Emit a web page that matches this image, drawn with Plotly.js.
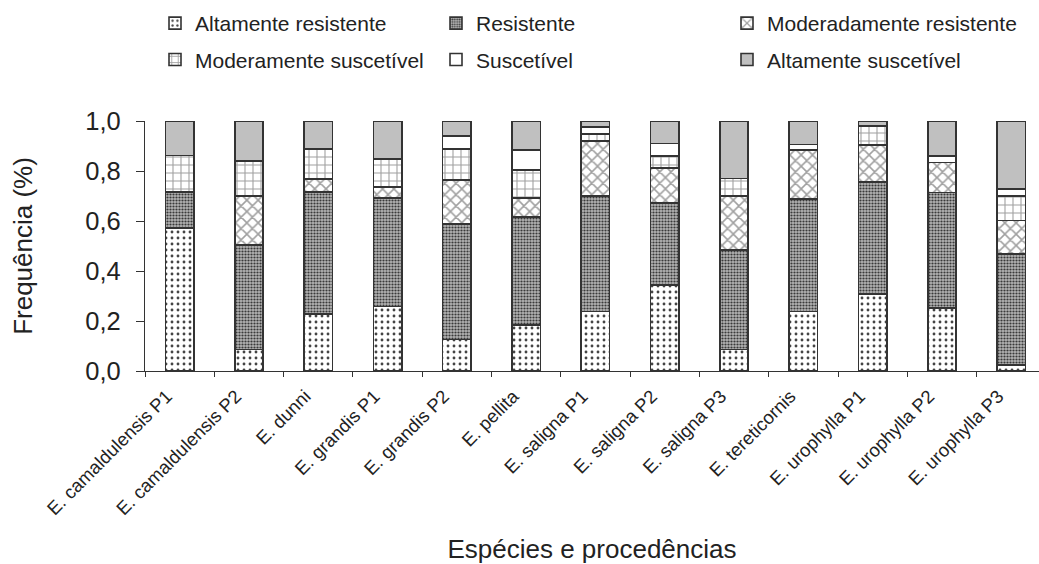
<!DOCTYPE html>
<html>
<head>
<meta charset="utf-8">
<script src="https://cdn.plot.ly/plotly-3.0.1.min.js"></script>
<style>html,body{margin:0;padding:0;background:#fff;}#chart{width:1039px;height:564px;}</style>
</head>
<body>
<div id="chart"></div>
<script>
const categories = ["E. camaldulensis P1","E. camaldulensis P2","E. dunni","E. grandis P1","E. grandis P2","E. pellita","E. saligna P1","E. saligna P2","E. saligna P3","E. tereticornis","E. urophylla P1","E. urophylla P2","E. urophylla P3"];
const altamenteResistente = [0.573,0.086,0.228,0.258,0.126,0.183,0.238,0.345,0.086,0.238,0.308,0.253,0.024];
const resistente = [0.142,0.417,0.487,0.435,0.463,0.433,0.462,0.327,0.399,0.449,0.448,0.461,0.445];
const moderadamenteResistente = [0,0.196,0.053,0.042,0.174,0.076,0.220,0.141,0.214,0.197,0.148,0.120,0.133];
const moderamenteSuscetivel = [0.147,0.140,0.121,0.112,0.126,0.111,0.028,0.048,0.071,0,0.077,0,0.098];
const suscetivel = [0,0,0,0,0.052,0.081,0.029,0.049,0,0.022,0,0.027,0.027];
const altamenteSuscetivel = [0.138,0.161,0.111,0.153,0.059,0.116,0.023,0.090,0.230,0.094,0.019,0.139,0.273];
const yTicks = [0,0.2,0.4,0.6,0.8,1.0];

const W = 1039, H = 564, ML = 145, MR = 0, MT = 121, MB = 193;
const PW = W - ML - MR, PH = H - MT - MB;
function px2x(px){ return (px - ML) / PW; }
function px2y(py){ return (H - MB - py) / PH; }

const line = {color:'#333', width:1.6};
function tr(name, y, pattern, color, legend, grp){
  return {type:'bar', name:name, x:categories, y:y, legend:legend, legendgroup:grp,
    marker:{color:color, line:line, pattern:pattern}, hoverinfo:'skip'};
}
const data = [
  tr('Altamente resistente', altamenteResistente, {shape:'.', bgcolor:'#ffffff', fgcolor:'#444', size:6, solidity:0.18}, '#ffffff', 'legend', 'a'),
  tr('Resistente', resistente, {shape:'.', bgcolor:'#b4b4b4', fgcolor:'#3a3a3a', size:3, solidity:0.42}, '#b4b4b4', 'legend2', 'b'),
  tr('Moderadamente resistente', moderadamenteResistente, {shape:'x', bgcolor:'#ffffff', fgcolor:'#a0a0a0', size:8, solidity:0.35}, '#ffffff', 'legend3', 'c'),
  tr('Moderamente suscetível', moderamenteSuscetivel, {shape:'+', bgcolor:'#ffffff', fgcolor:'#a0a0a0', size:8, solidity:0.25}, '#ffffff', 'legend', 'd'),
  tr('Suscetível', suscetivel, {}, '#ffffff', 'legend2', 'e'),
  tr('Altamente suscetível', altamenteSuscetivel, {}, '#c0c0c0', 'legend3', 'f')
];
function leg(px){
  return {xref:'paper', yref:'paper', x:px2x(px), y:px2y(3), xanchor:'left', yanchor:'top',
    orientation:'v', traceorder:'grouped', tracegroupgap:6, itemwidth:30,
    font:{family:'Liberation Sans, Arial, sans-serif', size:21, color:'#222'}, bgcolor:'rgba(0,0,0,0)'};
}
const layout = {
  width:W, height:H,
  margin:{l:ML, r:MR, t:MT, b:MB, autoexpand:false},
  paper_bgcolor:'#fff', plot_bgcolor:'#fff',
  barmode:'stack', bargap:0.59,
  separators:', ',
  font:{family:'Liberation Sans, Arial, sans-serif', color:'#222'},
  showlegend:true,
  legend: leg(155),
  legend2: leg(436),
  legend3: leg(727),
  xaxis:{type:'category', range:[-0.5,12.4], showline:true, linecolor:'#333', linewidth:1.2,
    ticks:'outside', tickson:'boundaries', ticklen:5, tickcolor:'#333', tickangle:-45,
    ticklabelshift:-13, ticklabelstandoff:6,
    tickfont:{size:18.5, color:'#222'}, showgrid:false, zeroline:false, fixedrange:true,
    title:{text:'Espécies e procedências', font:{size:26, color:'#222'}, standoff:26}},
  yaxis:{range:[0,1], tickvals:yTicks, tickformat:'.1f', showline:true, linecolor:'#333', linewidth:1.2,
    ticks:'outside', ticklen:8, tickcolor:'#333', tickfont:{size:25.5, color:'#222'},
    ticklabelstandoff:10,
    showgrid:false, zeroline:false, fixedrange:true,
    title:{text:'Frequência (%)', font:{size:26, color:'#222'}, standoff:45}}
};
Plotly.newPlot('chart', data, layout, {displayModeBar:false, staticPlot:true});
</script>
</body>
</html>
